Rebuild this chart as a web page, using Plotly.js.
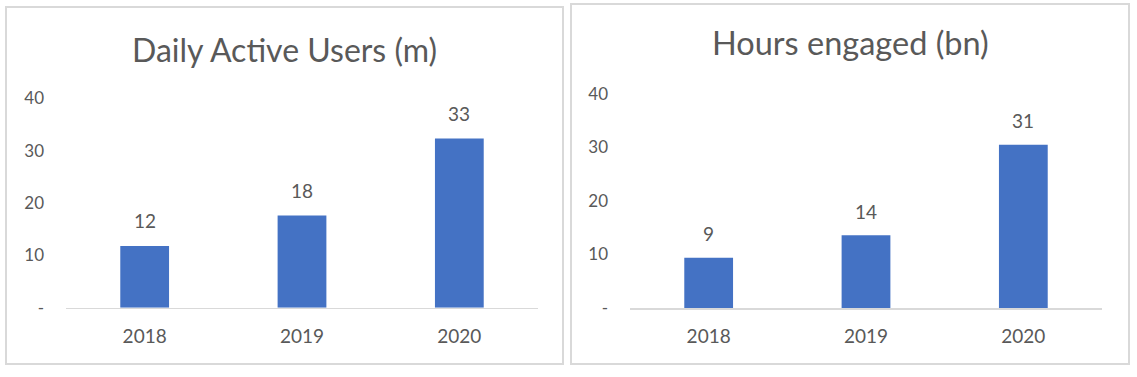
<!DOCTYPE html>
<html>
<head>
<meta charset="utf-8">
<script src="https://cdn.plot.ly/plotly-3.0.1.min.js"></script>
<style>
  html, body { margin: 0; padding: 0; background: #ffffff; }
  #chart { width: 1137px; height: 377px; }
</style>
</head>
<body>
<div id="chart"></div>
<script>
// ---- Data ----
const years = ['2018', '2019', '2020'];
const dailyActiveUsers = [11.8, 17.6, 32.3];   // millions (bar heights)
const dailyActiveLabels = ['12', '18', '33'];  // data labels as shown
const hoursEngaged = [9.4, 13.6, 30.5];        // billions (bar heights)
const hoursLabels = ['9', '14', '31'];         // data labels as shown
const yTickVals = [0, 10, 20, 30, 40];
const yTickText = ['-', '10', '20', '30', '40'];
const title1 = 'Daily Active Users (m)';
const title2 = 'Hours engaged (bn)';

// ---- Style ----
const FONT = 'Lato, "Noto Sans", sans-serif';
const TEXT = '#595959';
const BAR = '#4472C4';
const LINE = '#D9D9D9';
const W = 1137, H = 377;
const px = v => v / W;
const py = v => 1 - v / H;

const traces = [
  { type: 'bar', x: years, y: dailyActiveUsers, xaxis: 'x', yaxis: 'y',
    marker: { color: BAR }, hoverinfo: 'x+y' },
  { type: 'bar', x: years, y: hoursEngaged, xaxis: 'x2', yaxis: 'y2',
    marker: { color: BAR }, hoverinfo: 'x+y' }
];

function xAxis(domain, anchor) {
  return {
    domain: domain, anchor: anchor, type: 'category', range: [-0.5, years.length - 0.5],
    showgrid: false, zeroline: false,
    showline: true, linecolor: LINE, linewidth: 1.5, ticks: '',
    tickfont: { family: FONT, size: 19, color: TEXT }, ticklabelstandoff: 11,
    fixedrange: true
  };
}
function yAxis(domain, anchor) {
  return {
    domain: domain, anchor: anchor, range: [0, 40], showgrid: false, zeroline: false,
    showline: false, ticks: '', tickvals: yTickVals, ticktext: yTickText,
    tickfont: { family: FONT, size: 17, color: TEXT }, ticklabelstandoff: 21,
    fixedrange: true
  };
}

const annotations = [];
years.forEach((yr, i) => {
  annotations.push({ xref: 'x', yref: 'y', x: i, y: dailyActiveUsers[i],
    text: dailyActiveLabels[i], showarrow: false,
    yanchor: 'middle', yshift: 25, font: { family: FONT, size: 19, color: TEXT } });
  annotations.push({ xref: 'x2', yref: 'y2', x: i, y: hoursEngaged[i],
    text: hoursLabels[i], showarrow: false,
    yanchor: 'middle', yshift: 24, font: { family: FONT, size: 19, color: TEXT } });
});
annotations.push({ xref: 'paper', yref: 'paper', x: px(284.5), y: py(49),
  text: title1, showarrow: false, xanchor: 'center', yanchor: 'middle',
  font: { family: FONT, size: 32, color: TEXT } });
annotations.push({ xref: 'paper', yref: 'paper', x: px(850), y: py(43),
  text: title2, showarrow: false, xanchor: 'center', yanchor: 'middle',
  font: { family: FONT, size: 32.5, color: TEXT } });

const shapes = [
  { type: 'rect', xref: 'paper', yref: 'paper', x0: px(6), x1: px(563), y0: py(364), y1: py(7),
    line: { color: LINE, width: 2 }, fillcolor: 'rgba(0,0,0,0)' },
  { type: 'rect', xref: 'paper', yref: 'paper', x0: px(571), x1: px(1129), y0: py(364), y1: py(4),
    line: { color: LINE, width: 2 }, fillcolor: 'rgba(0,0,0,0)' }
];

const layout = {
  width: W, height: H, margin: { l: 0, r: 0, t: 0, b: 0 },
  paper_bgcolor: '#ffffff', plot_bgcolor: '#ffffff',
  showlegend: false, bargap: 0.69,
  font: { family: FONT, color: TEXT },
  xaxis: xAxis([px(66), px(538)], 'y'),
  yaxis: yAxis([1 - 307.7 / H, 1 - 98.3 / H], 'x'),
  xaxis2: xAxis([px(630), px(1102)], 'y2'),
  yaxis2: yAxis([1 - 308 / H, 1 - 94 / H], 'x2'),
  annotations: annotations,
  shapes: shapes
};

Plotly.newPlot('chart', traces, layout, { displayModeBar: false, staticPlot: true });
</script>
</body>
</html>
